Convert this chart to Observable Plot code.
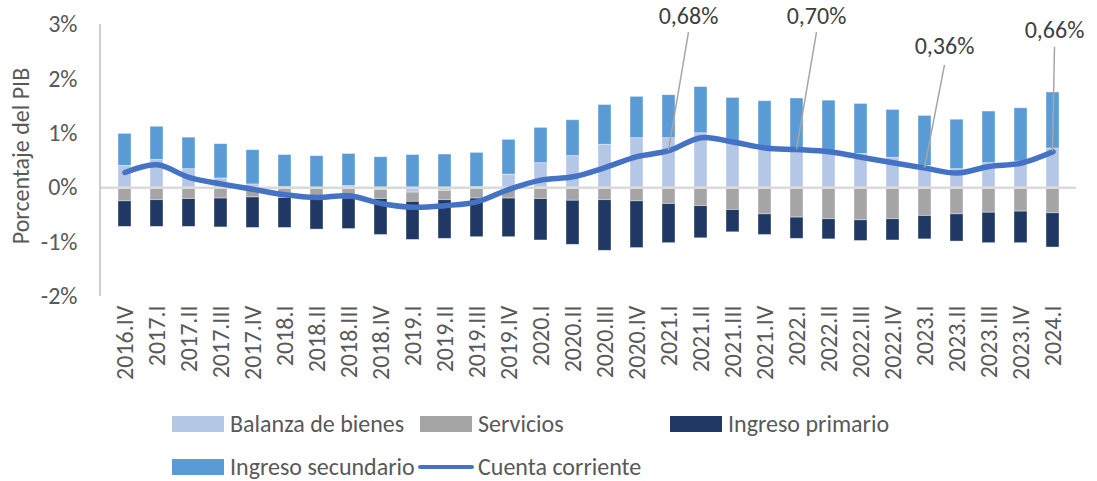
<!DOCTYPE html>
<html><head><meta charset="utf-8">
<script src="https://cdn.jsdelivr.net/npm/d3@7"></script>
<script src="https://cdn.jsdelivr.net/npm/@observablehq/plot@0.6"></script>
<style>
body{margin:0;background:#fff;}
#wrap{position:relative;width:1097px;height:481px;font-family:Carlito,Calibri,Lato,sans-serif;color:#595959;overflow:hidden;}
.lg{position:absolute;font-size:24px;line-height:24px;height:24px;white-space:nowrap;}
.sw{position:absolute;}
</style></head><body><div id="wrap"></div>
<script>
const categories = ["2016.IV","2017.I","2017.II","2017.III","2017.IV","2018.I","2018.II","2018.III","2018.IV","2019.I","2019.II","2019.III","2019.IV","2020.I","2020.II","2020.III","2020.IV","2021.I","2021.II","2021.III","2021.IV","2022.I","2022.II","2022.III","2022.IV","2023.I","2023.II","2023.III","2023.IV","2024.I"];
const balanzaBienes     = [0.40,0.51,0.34,0.17,0.06,0.01,0.00,0.03,-0.04,-0.09,-0.06,0.01,0.24,0.45,0.58,0.79,0.91,0.91,1.00,0.86,0.73,0.73,0.68,0.62,0.55,0.40,0.34,0.45,0.48,0.72];
const servicios         = [-0.25,-0.23,-0.21,-0.20,-0.18,-0.19,-0.21,-0.20,-0.17,-0.17,-0.17,-0.20,-0.20,-0.21,-0.24,-0.23,-0.25,-0.30,-0.34,-0.41,-0.49,-0.55,-0.58,-0.60,-0.58,-0.52,-0.49,-0.46,-0.44,-0.47];
const ingresoPrimario   = [-0.47,-0.49,-0.51,-0.53,-0.56,-0.55,-0.56,-0.56,-0.66,-0.70,-0.71,-0.71,-0.71,-0.76,-0.81,-0.93,-0.86,-0.72,-0.59,-0.41,-0.38,-0.39,-0.37,-0.38,-0.39,-0.43,-0.50,-0.56,-0.58,-0.63];
const ingresoSecundario = [0.59,0.61,0.58,0.63,0.63,0.59,0.58,0.59,0.56,0.60,0.61,0.63,0.64,0.65,0.66,0.73,0.76,0.79,0.85,0.79,0.86,0.91,0.92,0.92,0.88,0.92,0.91,0.95,0.98,1.03];
const cuentaCorriente   = [0.28,0.42,0.19,0.07,-0.03,-0.13,-0.18,-0.15,-0.29,-0.36,-0.33,-0.26,-0.03,0.14,0.20,0.37,0.57,0.68,0.92,0.84,0.73,0.70,0.66,0.56,0.46,0.36,0.27,0.39,0.45,0.66];
const yTicks = [-2,-1,0,1,2,3];
const seriesNames = ["Balanza de bienes","Servicios","Ingreso primario","Ingreso secundario"];
const seriesValues = [balanzaBienes, servicios, ingresoPrimario, ingresoSecundario];
const seriesColors = ["#b4c7e7","#a5a5a5","#1f3864","#5b9bd5"];
const lineName = "Cuenta corriente";
const lineColor = "#4472c4";
const annotatedCats = ["2021.I","2022.I","2023.I","2024.I"];
const annotatedLabels = ["0,68%","0,70%","0,36%","0,66%"];

// layout for the callouts (pixel offsets / label heights in y units)
const calloutLayout = [
  {dx: 20, lineTop: 2.85, labelY: 3.11},
  {dx: 20, lineTop: 2.85, labelY: 3.11},
  {dx: 20, lineTop: 2.25, labelY: 2.55},
  {dx: 2,  lineTop: 2.58, labelY: 2.85}
];

const stacked = [];
seriesNames.forEach((s, j) => categories.forEach((c, i) => stacked.push({cat: c, series: s, value: seriesValues[j][i]})));
const lineData = categories.map((c, i) => ({cat: c, value: cuentaCorriente[i]}));

const FONT = "Carlito, Calibri, Lato, sans-serif";

const extras = (index, scales, values, dimensions) => {
  const x = scales.x, y = scales.y;
  const bw = x.bandwidth();
  const g = d3.create("svg:g");
  g.append("line").attr("x1", dimensions.marginLeft).attr("x2", dimensions.marginLeft)
    .attr("y1", y(3)).attr("y2", y(-2)).attr("stroke", "#bfbfbf").attr("stroke-width", 1.5);
  g.append("text").attr("transform", `translate(${dimensions.marginLeft - 77},${(y(3) + y(-2)) / 2 - 4}) rotate(-90)`)
    .attr("text-anchor", "middle").attr("dominant-baseline", "middle")
    .attr("font-size", 24).attr("fill", "#595959").text("Porcentaje del PIB");
  annotatedCats.forEach((c, k) => {
    const i = categories.indexOf(c);
    const L = calloutLayout[k];
    const cx = x(c) + bw / 2, cy = y(cuentaCorriente[i]);
    g.append("line").attr("x1", cx).attr("y1", cy).attr("x2", cx + L.dx).attr("y2", y(L.lineTop))
      .attr("stroke", "#a6a6a6").attr("stroke-width", 1.5);
    g.append("text").attr("x", cx + L.dx).attr("y", y(L.labelY)).attr("text-anchor", "middle")
      .attr("dominant-baseline", "middle").attr("font-size", 24).attr("fill", "#404040").text(annotatedLabels[k]);
  });
  return g.node();
};

const chart = Plot.plot({
  width: 1097,
  height: 400,
  marginLeft: 100,
  marginRight: 21,
  marginTop: 24,
  marginBottom: 104,
  style: {fontFamily: FONT, fontSize: "24px", color: "#595959", background: "#fff", overflow: "visible"},
  x: {type: "band", domain: categories, paddingInner: 0.6, paddingOuter: 0.3},
  y: {domain: [-2, 3]},
  color: {domain: seriesNames, range: seriesColors},
  marks: [
    Plot.barY(stacked, {x: "cat", y: "value", fill: "series", order: seriesNames, stroke: "#ffffff", strokeWidth: 0.8, strokeOpacity: 0.5}),
    Plot.ruleY([0], {stroke: "#d9d9d9", strokeWidth: 2.5}),
    Plot.line(lineData, {x: "cat", y: "value", stroke: lineColor, strokeWidth: 5.5, curve: "catmull-rom", strokeLinecap: "round", strokeLinejoin: "round"}),
    Plot.axisY({ticks: yTicks, tickFormat: d => `${d}%`, tickSize: 0, tickPadding: 23, label: null, fill: "#595959"}),
    Plot.axisX({tickRotate: -90, tickSize: 0, tickPadding: 9, label: null, fill: "#595959"}),
    extras
  ]
});

const wrap = document.getElementById("wrap");
chart.style.position = "absolute";
chart.style.left = "0px";
chart.style.top = "0px";
wrap.appendChild(chart);

const legendItems = [
  {name: seriesNames[0], color: seriesColors[0], kind: "rect", x: 172, row: 0},
  {name: seriesNames[1], color: seriesColors[1], kind: "rect", x: 420, row: 0},
  {name: seriesNames[2], color: seriesColors[2], kind: "rect", x: 670, row: 0},
  {name: seriesNames[3], color: seriesColors[3], kind: "rect", x: 172, row: 1},
  {name: lineName, color: lineColor, kind: "line", x: 420, row: 1}
];
const rowCenter = [424, 467];
legendItems.forEach(it => {
  const sw = document.createElement("div");
  sw.className = "sw";
  sw.style.background = it.color;
  sw.style.left = it.x + "px";
  sw.style.width = "52px";
  if (it.kind === "rect") { sw.style.top = (rowCenter[it.row] - 8) + "px"; sw.style.height = "16px"; }
  else { sw.style.top = (rowCenter[it.row] - 2) + "px"; sw.style.height = "4px"; sw.style.borderRadius = "2px"; sw.style.left = (it.x - 2) + "px"; sw.style.width = "56px"; }
  wrap.appendChild(sw);
  const t = document.createElement("div");
  t.className = "lg";
  t.style.left = (it.x + 58) + "px";
  t.style.top = (rowCenter[it.row] - 12) + "px";
  t.textContent = it.name;
  wrap.appendChild(t);
});
</script></body></html>
